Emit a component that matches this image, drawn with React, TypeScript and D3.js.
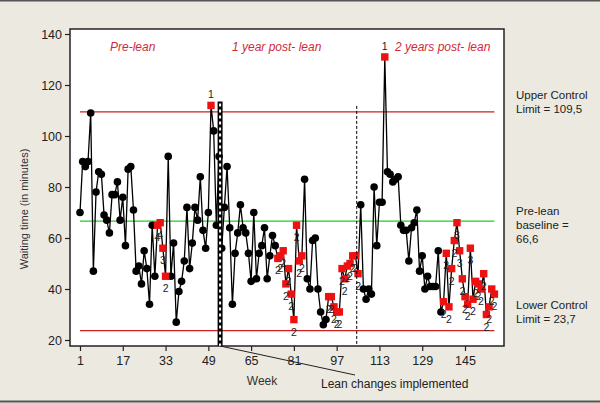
import React, { useRef, useEffect } from 'react';
import * as d3 from 'd3';

// weekly waiting time (minutes), week 1..156
const waitingTimes = [
  70, 90, 88, 90, 109, 47, 78, 86, 85, 69,
  67, 62, 77, 77, 82, 67, 76, 57, 87, 88,
  71, 47, 49, 42, 55, 48, 34, 65, 45, 65,
  66, 56, 45, 92, 45, 58, 27, 39, 43, 51,
  72, 48, 58, 72, 67, 84, 63, 56, 70, 112,
  102, 65, 92, 56, 72, 88, 64, 34, 54, 62,
  73, 64, 62, 54, 43, 70, 44, 54, 57, 64,
  44, 53, 61, 57, 52, 53, 55, 42, 48, 38,
  28, 65, 51, 53, 83, 44, 40, 59, 60, 40,
  31, 26, 28, 37, 37, 33, 31, 31, 48, 44,
  49, 50, 53, 53, 46, 73, 40, 36, 40, 38,
  80, 57, 74, 74, 131, 86, 85, 82, 83, 84,
  65, 63, 63, 51, 64, 66, 71, 47, 53, 40,
  45, 41, 41, 41, 55, 31, 35, 54, 33, 48,
  59, 66, 55, 44, 37, 34, 56, 36, 43, 42,
  40, 46, 30, 33, 40, 38,
];

// weeks flagged by a control chart test, and the test number
const redWeeks = [
  30, 31, 32, 33, 50,
  75, 76, 77, 78, 79, 80, 81, 82, 83, 84,
  94, 95, 96, 97, 98, 99, 100, 101, 102, 103, 104, 105,
  115,
  137, 138, 139, 140, 141, 142, 143, 144, 145, 146, 147, 148, 149, 150, 151, 152, 153, 154, 155, 156,
];
const redTests = [
  '4', '4', '3', '2', '1',
  '2', '2', '2', '2', '2', '2', '2', '2', '2', '2',
  '2', '2', '2', '2', '2', '2', '2', '2', '2', '2', '2', '2',
  '1',
  '2', '2', '2', '2', '2', '3', '3', '2', '2', '2', '3', '2', '2', '2', '2', '2', '2', '2', '2', '2',
];

const xTicks = [1, 17, 33, 49, 65, 81, 97, 113, 129, 145];
const yTicks = [20, 40, 60, 80, 100, 120, 140];

const upperLimit = 109.5;
const baselineValue = 66.6;
const lowerLimit = 23.7;
const leanWeek = 53.4;
const secondYearWeek = 104.5;

const periodNames = ['Pre-lean', '1 year post- lean', '2 years post- lean'];
const limitNotes = [
  ['Upper Control', 'Limit = 109,5'],
  ['Pre-lean', 'baseline =', '66,6'],
  ['Lower Control', 'Limit = 23,7'],
];

const W = 600;
const H = 403;
const FONT = "'Liberation Sans', Arial, sans-serif";

const App = () => {
  const svgRef = useRef<SVGSVGElement>(null);

  useEffect(() => {
    const svg = d3.select(svgRef.current);
    svg.selectAll('*').remove();

    const plot = { left: 70, top: 29, right: 504, bottom: 346 };
    const x = d3.scaleLinear().domain([1, 145]).range([80, 465]);
    const y = d3.scaleLinear().domain([20, 140]).range([340, 34]);
    const lastWeek = waitingTimes.length;

    // background + frame of the picture
    svg.append('rect').attr('width', W).attr('height', H).attr('fill', '#ECE9E0');
    svg.append('line').attr('x1', 0).attr('x2', W).attr('y1', 0.75).attr('y2', 0.75)
      .attr('stroke', '#555').attr('stroke-width', 1.5);
    svg.append('line').attr('x1', 0).attr('x2', W).attr('y1', H - 1.5).attr('y2', H - 1.5)
      .attr('stroke', '#555').attr('stroke-width', 2);

    svg.append('rect')
      .attr('x', plot.left).attr('y', plot.top)
      .attr('width', plot.right - plot.left).attr('height', plot.bottom - plot.top)
      .attr('fill', '#fff').attr('stroke', '#222').attr('stroke-width', 1.5);

    // axes
    const gx = svg.append('g')
      .attr('transform', `translate(0,${plot.bottom})`)
      .call(d3.axisBottom(x).tickValues(xTicks).tickSize(5).tickPadding(5).tickFormat(d3.format('d')));
    gx.select('.domain').remove();
    gx.attr('font-family', FONT).attr('font-size', 12.5);
    gx.selectAll('line').attr('stroke', '#222').attr('stroke-width', 1.2);
    gx.selectAll('text').attr('fill', '#222');

    const gy = svg.append('g')
      .attr('transform', `translate(${plot.left},0)`)
      .call(d3.axisLeft(y).tickValues(yTicks).tickSize(5).tickPadding(3));
    gy.select('.domain').remove();
    gy.attr('font-family', FONT).attr('font-size', 12.5);
    gy.selectAll('line').attr('stroke', '#222').attr('stroke-width', 1.2);
    gy.selectAll('text').attr('fill', '#222');

    svg.append('text')
      .attr('x', 262).attr('y', 385)
      .attr('text-anchor', 'middle')
      .attr('font-family', FONT).attr('font-size', 12).attr('fill', '#333')
      .text('Week');

    svg.append('text')
      .attr('transform', 'translate(28,209) rotate(-90)')
      .attr('text-anchor', 'middle')
      .attr('font-family', FONT).attr('font-size', 11).attr('fill', '#333')
      .text('Waiting time (in minutes)');

    // control limits and baseline
    const hLine = (v: number, color: string) =>
      svg.append('line')
        .attr('x1', x(1)).attr('x2', x(lastWeek))
        .attr('y1', y(v)).attr('y2', y(v))
        .attr('stroke', color).attr('stroke-width', 1.3);
    hLine(upperLimit, '#CC2020');
    hLine(baselineValue, '#22CC22');
    hLine(lowerLimit, '#CC2020');

    // series
    const line = d3.line<number>()
      .x((d, i) => x(i + 1))
      .y((d) => y(d));
    svg.append('path')
      .datum(waitingTimes)
      .attr('d', line)
      .attr('fill', 'none')
      .attr('stroke', '#000')
      .attr('stroke-width', 1.3);

    const points = waitingTimes.map((v, i) => ({ week: i + 1, v }));
    svg.append('g').selectAll('circle')
      .data(points.filter((p) => !redWeeks.includes(p.week)))
      .enter().append('circle')
      .attr('cx', (d) => x(d.week))
      .attr('cy', (d) => y(d.v))
      .attr('r', 3.8)
      .attr('fill', '#000');

    const flagged = redWeeks.map((w, i) => ({ week: w, v: waitingTimes[w - 1], test: redTests[i] }));
    svg.append('g').selectAll('rect')
      .data(flagged)
      .enter().append('rect')
      .attr('x', (d) => x(d.week) - 3.7)
      .attr('y', (d) => y(d.v) - 3.7)
      .attr('width', 7.4).attr('height', 7.4)
      .attr('fill', '#EE1111');

    svg.append('g').selectAll('text')
      .data(flagged)
      .enter().append('text')
      .attr('x', (d) => x(d.week))
      .attr('y', (d) => (d.test === '1' ? y(d.v) - 7 : y(d.v) + 16))
      .attr('text-anchor', 'middle')
      .attr('font-family', FONT).attr('font-size', 10.5).attr('fill', '#222')
      .text((d) => d.test);

    // lean changes marker (thick ladder line) and start of year 2
    const leanX = x(leanWeek);
    svg.append('line')
      .attr('x1', leanX).attr('x2', leanX).attr('y1', y(113.5)).attr('y2', plot.bottom)
      .attr('stroke', '#000').attr('stroke-width', 5);
    svg.append('line')
      .attr('x1', leanX).attr('x2', leanX).attr('y1', y(113.5) + 2).attr('y2', plot.bottom)
      .attr('stroke', '#fff').attr('stroke-width', 2).attr('stroke-dasharray', '3,3');

    const y2X = x(secondYearWeek);
    svg.append('line')
      .attr('x1', y2X).attr('x2', y2X).attr('y1', y(111.8)).attr('y2', plot.bottom)
      .attr('stroke', '#000').attr('stroke-width', 1).attr('stroke-dasharray', '3,2');

    svg.append('line')
      .attr('x1', leanX).attr('y1', plot.bottom)
      .attr('x2', 355).attr('y2', 375)
      .attr('stroke', '#222').attr('stroke-width', 1);
    svg.append('text')
      .attr('x', 321).attr('y', 388)
      .attr('font-family', FONT).attr('font-size', 12).attr('fill', '#222')
      .text('Lean changes implemented');

    // period titles
    const periodX = [110, 232, 395];
    periodNames.forEach((name, i) => {
      svg.append('text')
        .attr('x', periodX[i]).attr('y', 51)
        .attr('font-family', FONT).attr('font-size', 12).attr('font-style', 'italic')
        .attr('fill', '#D02A3A')
        .text(name);
    });

    // notes on the right
    const noteTop = [99, 215, 309];
    limitNotes.forEach((lines, i) => {
      lines.forEach((t, j) => {
        svg.append('text')
          .attr('x', 516).attr('y', noteTop[i] + j * 14)
          .attr('font-family', FONT).attr('font-size', 11.5).attr('fill', '#222')
          .text(t);
      });
    });
  }, []);

  return (
    <svg
      ref={svgRef}
      width={W}
      height={H}
      style={{ position: 'fixed', left: 0, top: 0, display: 'block' }}
    />
  );
};

export default App;
